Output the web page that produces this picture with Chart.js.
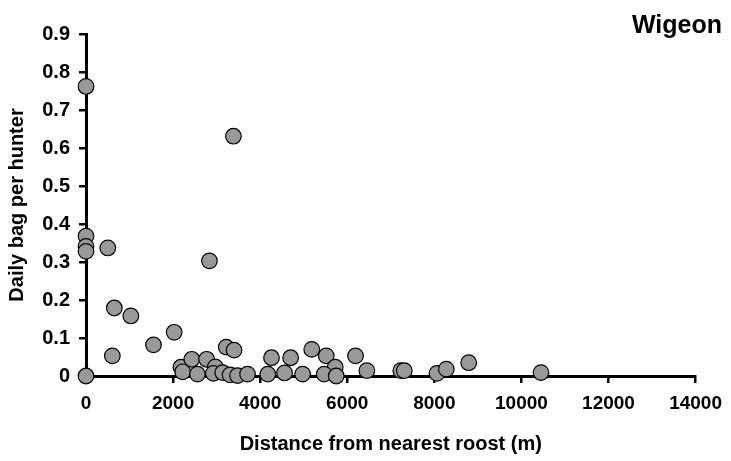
<!DOCTYPE html>
<html>
<head>
<meta charset="utf-8">
<script src="https://cdn.jsdelivr.net/npm/chart.js@4"></script>
<style>
  body { margin: 0; background: #fff; }
</style>
</head>
<body>
<canvas id="chart" width="731" height="461"></canvas>
<script>
// data
const species = 'Wigeon';
const distances = [0, 0, 0, 0, 0, 500, 650, 605, 1030, 1550, 2025, 2835, 3386,
  2180, 2220, 2430, 2560, 2770, 2970, 2925, 3140, 3220, 3400, 3310, 3480, 3710,
  4260, 4175, 4560, 4700, 4975, 5185, 5517, 5724, 5470, 5747, 6190, 6450,
  7230, 7310, 8060, 8275, 8790, 10450];
const bags = [0.762, 0.368, 0.341, 0.328, 0, 0.337, 0.179, 0.053, 0.158, 0.082, 0.115, 0.303, 0.631,
  0.023, 0.011, 0.044, 0.005, 0.044, 0.024, 0.007, 0.009, 0.076, 0.068, 0.003, 0.001, 0.005,
  0.048, 0.005, 0.008, 0.048, 0.005, 0.07, 0.053, 0.023, 0.005, 0, 0.053, 0.014,
  0.014, 0.014, 0.007, 0.018, 0.035, 0.009];
const xTicks = [0, 2000, 4000, 6000, 8000, 10000, 12000, 14000];
const yTicks = [0, 0.1, 0.2, 0.3, 0.4, 0.5, 0.6, 0.7, 0.8, 0.9];

const points = distances.map((d, i) => ({ x: d, y: bags[i] }));
const FONT = '"Liberation Sans", Arial, sans-serif';

Chart.defaults.font.family = FONT;
Chart.defaults.color = '#000';

const speciesLabel = {
  id: 'speciesLabel',
  afterDraw(chart) {
    const c = chart.ctx;
    c.save();
    c.font = 'bold 25px ' + FONT;
    c.fillStyle = '#000';
    c.textAlign = 'right';
    c.textBaseline = 'alphabetic';
    c.fillText(species, 722, 33);
    c.restore();
  }
};

const ctx = document.getElementById('chart');
new Chart(ctx, {
  type: 'scatter',
  data: {
    datasets: [{
      data: points,
      backgroundColor: '#999999',
      borderColor: '#000',
      borderWidth: 1.2,
      pointRadius: 7.8,
      pointHoverRadius: 7.8,
      clip: false
    }]
  },
  options: {
    responsive: false,
    animation: false,
    layout: { padding: { top: 34, right: 35, left: 0, bottom: 0 } },
    plugins: {
      legend: { display: false },
      tooltip: { enabled: false }
    },
    scales: {
      x: {
        type: 'linear',
        min: 0,
        max: 14000,
        afterBuildTicks: s => { s.ticks = xTicks.map(v => ({ value: v })); },
        afterFit: s => { s.height = 85; },
        ticks: {
          callback: v => String(v),
          font: { size: 19, weight: 'bold' },
          padding: 9,
          maxRotation: 0
        },
        grid: { drawOnChartArea: false, drawTicks: true, tickLength: 7, color: '#000', lineWidth: 2.5 },
        border: { display: true, color: '#000', width: 3 },
        title: {
          display: true,
          text: 'Distance from nearest roost (m)',
          font: { size: 20, weight: 'bold' },
          padding: { top: 0, bottom: 5 }
        }
      },
      y: {
        type: 'linear',
        min: 0,
        max: 0.9,
        afterBuildTicks: s => { s.ticks = yTicks.map(v => ({ value: v })); },
        afterFit: s => { s.width = 86; },
        ticks: {
          callback: v => v === 0 ? '0' : v.toFixed(1),
          font: { size: 20, weight: 'bold' },
          padding: 9
        },
        grid: { drawOnChartArea: false, drawTicks: true, tickLength: 7, color: '#000', lineWidth: 2.5 },
        border: { display: true, color: '#000', width: 3 },
        title: {
          display: true,
          text: 'Daily bag per hunter',
          font: { size: 20, weight: 'bold' },
          padding: { top: 5, bottom: 0 }
        }
      }
    }
  },
  plugins: [speciesLabel]
});
</script>
</body>
</html>
